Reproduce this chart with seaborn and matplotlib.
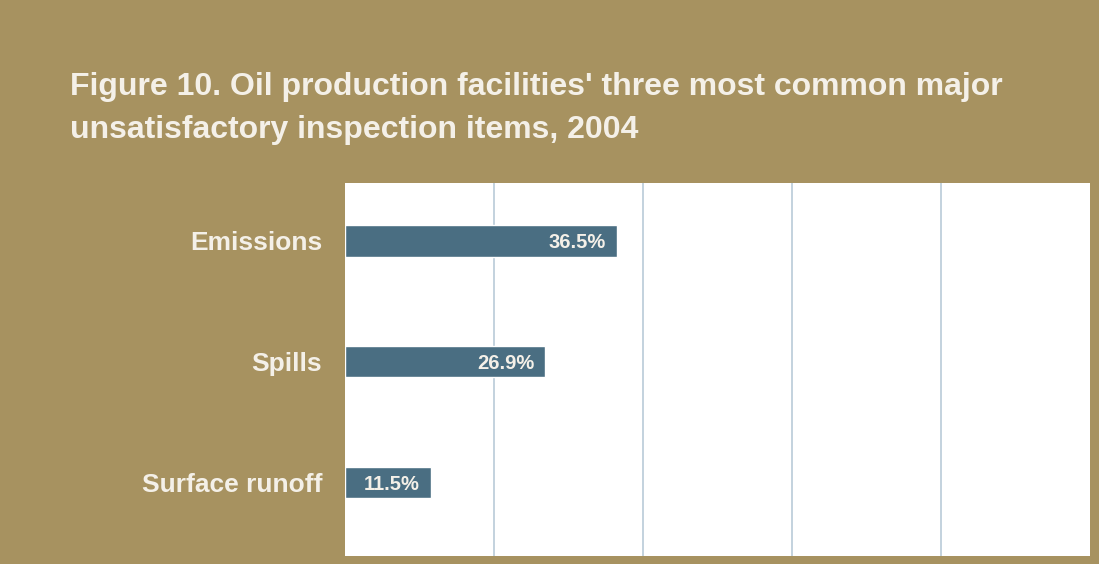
import matplotlib
matplotlib.use("Agg")
import matplotlib.pyplot as plt
import seaborn as sns
import pandas as pd

# Inspection items and their share of major unsatisfactory findings (%)
items = ["Emissions", "Spills", "Surface runoff"]
shares = [36.5, 26.9, 11.5]
bar_labels = ["36.5%", "26.9%", "11.5%"]

BG = "#A79260"
BAR = "#4A6E82"
GRID = "#C3D2DE"
TEXT = "#F4F0E8"

sns.set_theme(style="white")
plt.rcParams["font.family"] = ["Liberation Sans", "DejaVu Sans"]

df = pd.DataFrame({"item": items, "share": shares})

fig = plt.figure(figsize=(10.99, 5.64), dpi=100, facecolor=BG)
ax = fig.add_axes([345 / 1099, 8 / 564, 745 / 1099, 373 / 564])
ax.set_facecolor("white")

sns.barplot(data=df, x="share", y="item", orient="h", color=BAR,
            width=0.26, saturation=1, ax=ax, zorder=3)

ax.set_xlim(0, 100)
ax.set_ylim(2.61, -0.48)
ax.set_xticks([20, 40, 60, 80])
ax.set_xticklabels([])
ax.grid(axis="x", color=GRID, linewidth=1.4, zorder=0)
ax.set_axisbelow(True)
ax.tick_params(axis="x", length=0)
ax.tick_params(axis="y", length=0, pad=16.5)
for s in ax.spines.values():
    s.set_visible(False)
ax.set_xlabel("")
ax.set_ylabel("")

for lab in ax.get_yticklabels():
    lab.set_fontsize(19)
    lab.set_fontweight("bold")
    lab.set_color(TEXT)

# value labels inside the end of each bar
for i, (v, txt) in enumerate(zip(shares, bar_labels)):
    ax.annotate(txt, xy=(v, i), xytext=(-8, 0), textcoords="offset points",
                ha="right", va="center_baseline", color=TEXT, fontsize=14.5,
                fontweight="bold", zorder=4)

fig.text(70 / 1099, 1 - 108.5 / 564,
         "Figure 10. Oil production facilities' three most common major\n"
         "unsatisfactory inspection items, 2004",
         fontsize=23, fontweight="bold", color=TEXT,
         ha="left", va="center", linespacing=1.56)

fig.savefig("out.png", dpi=100, facecolor=BG)
